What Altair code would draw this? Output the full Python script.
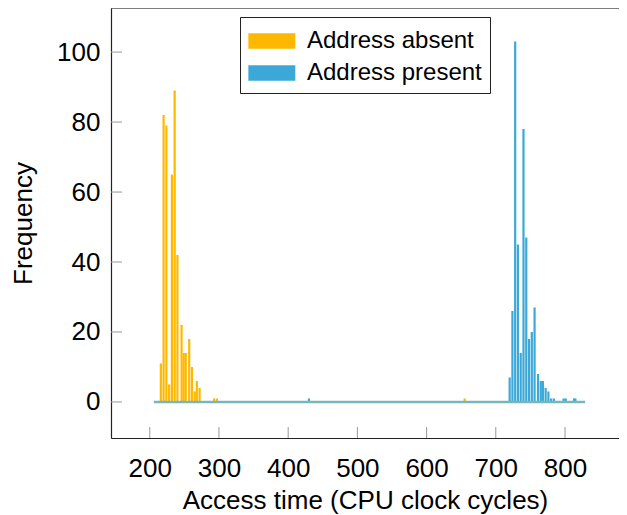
import altair as alt
import pandas as pd

# ---- data ----
absent_t = [216, 220, 224, 228, 232, 236, 240, 246, 249, 252, 257, 261, 265, 268, 272, 293, 297, 655]
absent_f = [11, 82, 79, 5, 65, 89, 42, 22, 14, 14, 18, 10, 3, 6, 4, 1, 1, 1]
present_t = [430, 720, 724, 728, 732, 736, 740, 744, 748, 752, 756, 761, 765, 768, 772, 776, 780, 784, 798, 801, 813, 815]
present_f = [1, 7, 26, 103, 45, 14, 78, 47, 18, 20, 27, 8, 6, 6, 4, 3, 1, 1, 1, 1, 1, 1]
bin_range = [206, 829]
series_names = ["Address absent", "Address present"]
series_colors = ["#FFB800", "#3BA8D8"]
x_ticks = [200, 300, 400, 500, 600, 700, 800]
y_ticks = [0, 20, 40, 60, 80, 100]

W, H = 508, 430
FONT = "Liberation Sans"

df = pd.concat([
    pd.DataFrame({"t": absent_t, "f": absent_f, "s": series_names[0]}),
    pd.DataFrame({"t": present_t, "f": present_f, "s": series_names[1]}),
])

xs = alt.Scale(domain=[144, 878], nice=False, zero=False, padding=0)
ys = alt.Scale(domain=[-10.3, 112.6], nice=False, zero=False, padding=0)

bars = alt.Chart(df).mark_bar(size=2.2).encode(
    x=alt.X("t:Q", scale=xs, axis=alt.Axis(
        values=x_ticks, ticks=False, grid=False, title="Access time (CPU clock cycles)",
        labelFontSize=26, titleFontSize=26, labelFont=FONT, titleFont=FONT,
        titleFontWeight="normal", labelColor="black", titleColor="black",
        labelPadding=17, titlePadding=6, domainColor="#222", domainWidth=1.2)),
    y=alt.Y("f:Q", scale=ys, axis=alt.Axis(
        values=y_ticks, ticks=False, grid=False, title="Frequency",
        labelFontSize=26, titleFontSize=26, labelFont=FONT, titleFont=FONT,
        titleFontWeight="normal", labelColor="black", titleColor="black",
        labelPadding=11, titlePadding=20, domainColor="#222", domainWidth=1.2)),
    y2=alt.datum(0),
    color=alt.Color("s:N", scale=alt.Scale(domain=series_names, range=series_colors),
                    legend=alt.Legend(
                        orient="none", legendX=129, legendY=9, title=None,
                        symbolType="M-1,-0.5H2V0.5H-1Z", symbolSize=980,
                        symbolStrokeWidth=0, symbolOpacity=1,
                        labelFontSize=24, labelFont=FONT, labelColor="black",
                        labelLimit=0,
                        strokeColor="#222", fillColor="white", padding=8,
                        rowPadding=4, labelOffset=27, cornerRadius=0)),
)

baseline = alt.Chart(pd.DataFrame({"a": [bin_range[0]], "b": [bin_range[1]]})).mark_rule(
    color="#78b6bd", strokeWidth=2.5).encode(
    x=alt.X("a:Q", scale=xs), x2="b:Q", y=alt.datum(0))

xtick_marks = alt.Chart(pd.DataFrame({"t": x_ticks})).mark_rule(
    color="#999999", strokeWidth=1).encode(
    x=alt.X("t:Q", scale=xs), y=alt.value(H), y2=alt.value(H - 11))

ytick_marks = alt.Chart(pd.DataFrame({"v": y_ticks})).mark_rule(
    color="#999999", strokeWidth=1).encode(
    y=alt.Y("v:Q", scale=ys), x=alt.value(0), x2=alt.value(11))

top_border = alt.Chart(pd.DataFrame({"d": [0]})).mark_rule(
    color="#222", strokeWidth=1.2).encode(
    x=alt.value(0), x2=alt.value(W), y=alt.value(0))

chart = alt.layer(bars, baseline, xtick_marks, ytick_marks, top_border).properties(
    width=W, height=H,
    autosize=alt.AutoSizeParams(type="none"),
    padding={"left": 103, "top": 0, "right": 0, "bottom": 76},
).configure_view(stroke=None).configure(background="white")

chart.save("out.html", embed_options={"renderer": "svg", "actions": False})
